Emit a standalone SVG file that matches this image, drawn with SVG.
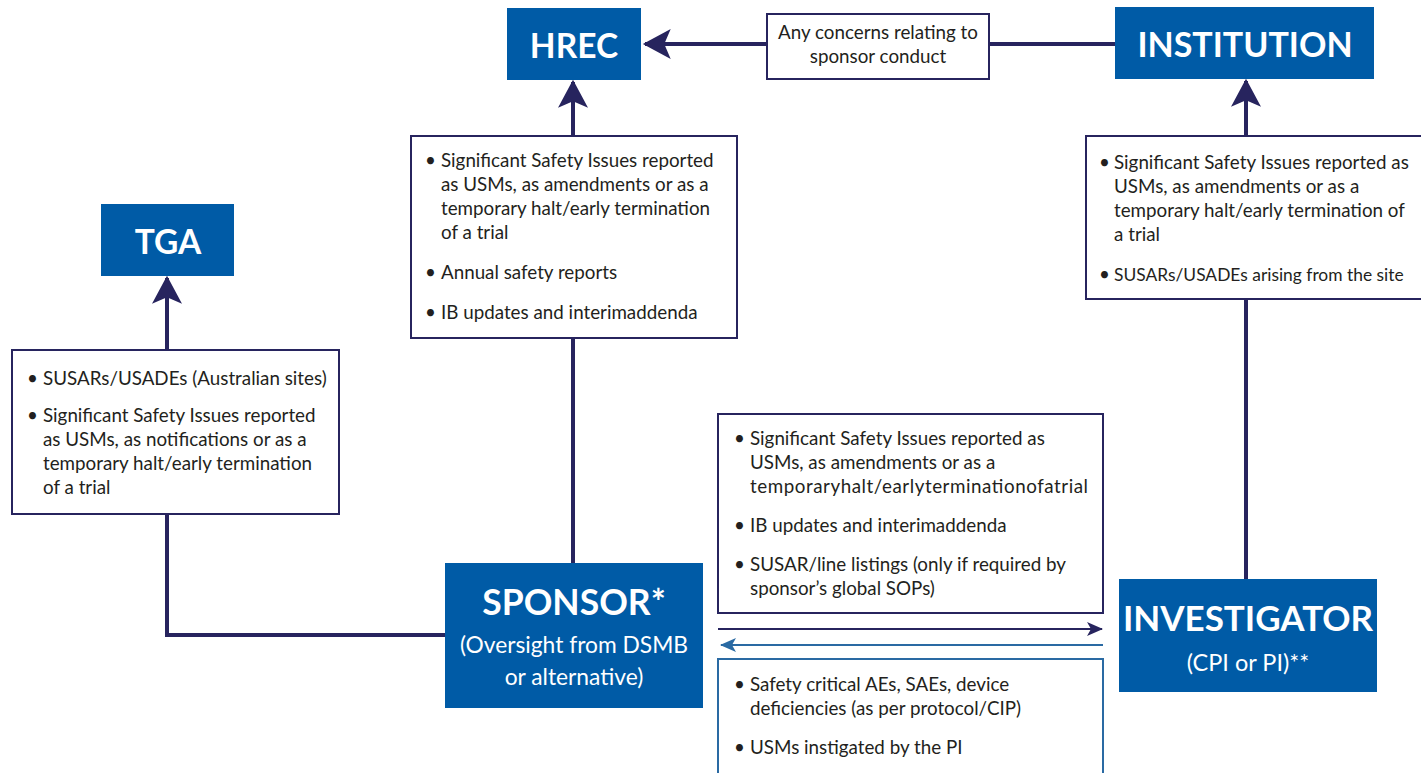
<svg xmlns="http://www.w3.org/2000/svg" width="1421" height="773" viewBox="0 0 1421 773">
<style>
.node{fill:#005ba6}
.t{fill:#fff;font-family:Lato,"Open Sans",sans-serif;font-weight:bold;text-anchor:middle}
.s{fill:#fff;font-family:Lato,"Open Sans",sans-serif;text-anchor:middle;font-size:22.8px}
.box{fill:#fff;stroke:#27245e;stroke-width:2}
.boxb{fill:#fff;stroke:#2a6aa3;stroke-width:2}
.b{font-family:Lato,"Open Sans",sans-serif;font-size:18.8px;fill:#231f20}
.c{stroke:#27245e;stroke-width:4;fill:none}
</style>
<defs>
<marker id="ah" markerUnits="userSpaceOnUse" markerWidth="30" markerHeight="30" viewBox="0 0 26 28" refX="24" refY="14" orient="auto">
<path d="M0,0 L26,14 L0,28 L6,14 z" fill="#27245e"/>
</marker>
<marker id="sn" markerUnits="userSpaceOnUse" markerWidth="16" markerHeight="14" viewBox="0 0 16 14" refX="15" refY="7" orient="auto">
<path d="M0,0 L16,7 L0,14 L4,7 z" fill="#27245e"/>
</marker>
<marker id="sb" markerUnits="userSpaceOnUse" markerWidth="16" markerHeight="14" viewBox="0 0 16 14" refX="15" refY="7" orient="auto">
<path d="M0,0 L16,7 L0,14 L4,7 z" fill="#2a6aa3"/>
</marker>
</defs>
<g id="connectors">
<line class="c" x1="1115" y1="44" x2="645" y2="44" marker-end="url(#ah)"/>
<line class="c" x1="573" y1="563" x2="573" y2="82" marker-end="url(#ah)"/>
<line class="c" x1="1246" y1="579" x2="1246" y2="81" marker-end="url(#ah)"/>
<polyline class="c" points="445,635 167,635 167,278" marker-end="url(#ah)"/>
<line x1="718" y1="629" x2="1102" y2="629" stroke="#27245e" stroke-width="2" marker-end="url(#sn)"/>
<line x1="1103" y1="645" x2="721" y2="645" stroke="#2a6aa3" stroke-width="2" marker-end="url(#sb)"/>
</g>
<g id="hrec">
<rect class="node" x="507" y="8" width="134" height="72"/>
<text class="t" x="574" y="58" font-size="33.5">HREC</text>
</g>
<g id="institution">
<rect class="node" x="1115" y="7" width="259" height="72"/>
<text class="t" x="1245" y="57" font-size="34">INSTITUTION</text>
</g>
<g id="tga">
<rect class="node" x="101" y="204" width="133" height="72"/>
<text class="t" x="168" y="254" font-size="33.5">TGA</text>
</g>
<g id="sponsor">
<rect class="node" x="445" y="563" width="258" height="145"/>
<text class="t" x="574" y="615" font-size="35.5">SPONSOR*</text>
<text class="s" x="574" y="653">(Oversight from DSMB</text>
<text class="s" x="574" y="685">or alternative)</text>
</g>
<g id="investigator">
<rect class="node" x="1119" y="579" width="258" height="113"/>
<text class="t" x="1248" y="631" font-size="35">INVESTIGATOR</text>
<text class="s" x="1248" y="671" style="font-size:23.5px">(CPI or PI)**</text>
</g>
<g id="concerns">
<rect class="box" x="767" y="14" width="222" height="65"/>
<text class="b" x="878" y="39" text-anchor="middle">Any concerns relating to</text>
<text class="b" x="878" y="63" text-anchor="middle">sponsor conduct</text>
</g>
<g id="hrec-reports">
<rect class="box" x="411" y="136" width="326" height="202"/>
<text class="b" x="425" y="167">•</text>
<text class="b" x="441" y="167">Significant Safety Issues reported</text>
<text class="b" x="441" y="191">as USMs, as amendments or as a</text>
<text class="b" x="441" y="215">temporary halt/early termination</text>
<text class="b" x="441" y="239">of a trial</text>
<text class="b" x="425" y="279">•</text>
<text class="b" x="441" y="279">Annual safety reports</text>
<text class="b" x="425" y="319">•</text>
<text class="b" x="441" y="319">IB updates and interimaddenda</text>
</g>
<g id="institution-reports">
<rect class="box" x="1086" y="136" width="345" height="163"/>
<text class="b" x="1099" y="169">•</text>
<text class="b" x="1114" y="169">Significant Safety Issues reported as</text>
<text class="b" x="1114" y="193">USMs, as amendments or as a</text>
<text class="b" x="1114" y="217">temporary halt/early termination of</text>
<text class="b" x="1114" y="241">a trial</text>
<text class="b" x="1099" y="281">•</text>
<text class="b" x="1114" y="281" style="font-size:17.4px">SUSARs/USADEs arising from the site</text>
</g>
<g id="tga-reports">
<rect class="box" x="12" y="350" width="327" height="164"/>
<text class="b" x="27" y="385">•</text>
<text class="b" x="43" y="385">SUSARs/USADEs (Australian sites)</text>
<text class="b" x="27" y="422">•</text>
<text class="b" x="43" y="422">Significant Safety Issues reported</text>
<text class="b" x="43" y="446">as USMs, as notifications or as a</text>
<text class="b" x="43" y="470">temporary halt/early termination</text>
<text class="b" x="43" y="494">of a trial</text>
</g>
<g id="sponsor-to-investigator">
<rect class="box" x="718" y="414" width="385" height="199"/>
<text class="b" x="734" y="445">•</text>
<text class="b" x="750" y="445">Significant Safety Issues reported as</text>
<text class="b" x="750" y="469">USMs, as amendments or as a</text>
<text class="b" x="750" y="493" textLength="338" lengthAdjust="spacing">temporaryhalt/earlyterminationofatrial</text>
<text class="b" x="734" y="532">•</text>
<text class="b" x="750" y="532">IB updates and interimaddenda</text>
<text class="b" x="734" y="571">•</text>
<text class="b" x="750" y="571">SUSAR/line listings (only if required by</text>
<text class="b" x="750" y="595">sponsor’s global SOPs)</text>
</g>
<g id="investigator-to-sponsor">
<rect class="boxb" x="718" y="659" width="385" height="130"/>
<text class="b" x="734" y="691">•</text>
<text class="b" x="750" y="691">Safety critical AEs, SAEs, device</text>
<text class="b" x="750" y="715">deficiencies (as per protocol/CIP)</text>
<text class="b" x="734" y="754">•</text>
<text class="b" x="750" y="754">USMs instigated by the PI</text>
</g>
</svg>
